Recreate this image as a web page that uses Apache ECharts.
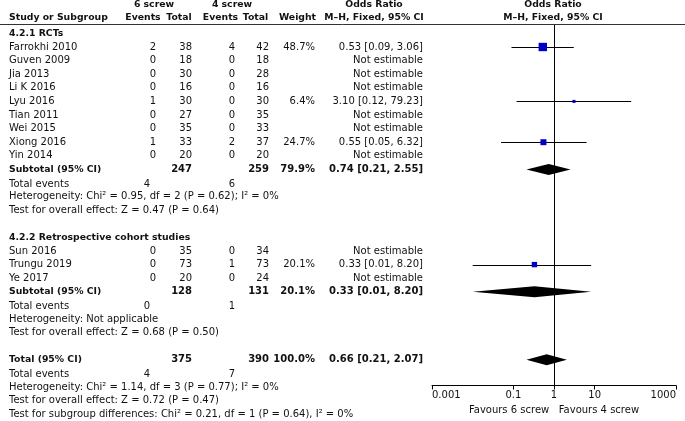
<!DOCTYPE html>
<html>
<head>
<meta charset="utf-8">
<style>
  html, body { margin: 0; padding: 0; background: #fff; }
  #container_one { width: 685px; height: 421px; }
</style>
<script src="https://cdn.jsdelivr.net/npm/echarts@6/dist/echarts.min.js"></script>
</head>
<body>
<div id="container_one"></div>
<script>
// 4.2.1 RCTs
var rctNames = ['Farrokhi 2010', 'Guven 2009', 'Jia 2013', 'Li K 2016', 'Lyu 2016', 'Tian 2011', 'Wei 2015', 'Xiong 2016', 'Yin 2014'];
var rctEvents6 = [2, 0, 0, 0, 1, 0, 0, 1, 0];
var rctTotal6 = [38, 18, 30, 16, 30, 27, 35, 33, 20];
var rctEvents4 = [4, 0, 0, 0, 0, 0, 0, 2, 0];
var rctTotal4 = [42, 18, 28, 16, 30, 35, 33, 37, 20];
var rctWeight = [48.7, null, null, null, 6.4, null, null, 24.7, null];
var rctOR = [0.53, null, null, null, 3.10, null, null, 0.55, null];
var rctLow = [0.09, null, null, null, 0.12, null, null, 0.05, null];
var rctHigh = [3.06, null, null, null, 79.23, null, null, 6.32, null];

// 4.2.2 Retrospective cohort studies
var cohortNames = ['Sun 2016', 'Trungu 2019', 'Ye 2017'];
var cohortEvents6 = [0, 0, 0];
var cohortTotal6 = [35, 73, 20];
var cohortEvents4 = [0, 1, 0];
var cohortTotal4 = [34, 73, 24];
var cohortWeight = [null, 20.1, null];
var cohortOR = [null, 0.33, null];
var cohortLow = [null, 0.01, null];
var cohortHigh = [null, 8.20, null];

// pooled: subtotal RCTs, subtotal cohort, total
var pooledLabels = ['Subtotal (95% CI)', 'Subtotal (95% CI)', 'Total (95% CI)'];
var pooledTotal6 = [247, 128, 375];
var pooledTotal4 = [259, 131, 390];
var pooledEvents6 = [4, 0, 4];
var pooledEvents4 = [6, 1, 7];
var pooledWeight = [79.9, 20.1, 100.0];
var pooledOR = [0.74, 0.33, 0.66];
var pooledLow = [0.21, 0.01, 0.21];
var pooledHigh = [2.55, 8.20, 2.07];
var heterogeneity = [
  'Heterogeneity: Chi² = 0.95, df = 2 (P = 0.62); I² = 0%',
  'Heterogeneity: Not applicable',
  'Heterogeneity: Chi² = 1.14, df = 3 (P = 0.77); I² = 0%'
];
var overallEffect = [
  'Test for overall effect: Z = 0.47 (P = 0.64)',
  'Test for overall effect: Z = 0.68 (P = 0.50)',
  'Test for overall effect: Z = 0.72 (P = 0.47)'
];
var subgroupTest = 'Test for subgroup differences: Chi² = 0.21, df = 1 (P = 0.64), I² = 0%';

var tickValues = [0.001, 0.1, 1, 10, 1000];
var favourLabels = ['Favours 6 screw', 'Favours 4 screw'];

// layout
var ROW_H = 13.6;
var Y0 = 33.4;
var FONT = '10px "DejaVu Sans"';
var BOLD_TEXT = 'bold 9.3px "DejaVu Sans"';
var BOLD_NUM = 'bold 10px "DejaVu Sans"';
var TEXT_COLOR = '#111';
// column x and alignment
var cols = {
  name: [9, 'left'],
  ev6: [156, 'right'],
  evTot6: [150, 'right'],
  tot6: [192, 'right'],
  ev4: [235, 'right'],
  tot4: [269, 'right'],
  weight: [315, 'right'],
  ci: [423, 'right']
};

function fmtCI(o, l, h) {
  if (o == null) return 'Not estimable';
  return o.toFixed(2) + ' [' + l.toFixed(2) + ', ' + h.toFixed(2) + ']';
}
function fmtW(w) {
  return w == null ? '' : w.toFixed(1) + '%';
}

// build the table rows
var rows = [];
var studyPoints = [];
var ciLines = [];
var diamonds = [];

function addGroup(title, start, names, e6, t6, e4, t4, w, o, l, h, p) {
  rows.push({ r: start, bold: true, cells: { name: title } });
  for (var i = 0; i < names.length; i++) {
    var r = start + 1 + i;
    rows.push({ r: r, cells: {
      name: names[i], ev6: e6[i], tot6: t6[i], ev4: e4[i], tot4: t4[i],
      weight: fmtW(w[i]), ci: fmtCI(o[i], l[i], h[i])
    }});
    if (o[i] != null) {
      studyPoints.push([o[i], r, w[i]]);
      ciLines.push([l[i], h[i], r]);
    }
  }
  var rs = start + 1 + names.length;
  addPooled(p, rs);
  rows.push({ r: rs + 3, cells: { name: overallEffect[p] } });
}

function addPooled(p, rs) {
  rows.push({ r: rs, bold: true, cells: {
    name: pooledLabels[p], tot6: pooledTotal6[p], tot4: pooledTotal4[p],
    weight: fmtW(pooledWeight[p]), ci: fmtCI(pooledOR[p], pooledLow[p], pooledHigh[p])
  }});
  rows.push({ r: rs + 1.1, cells: { name: 'Total events', evTot6: pooledEvents6[p], ev4: pooledEvents4[p] } });
  rows.push({ r: rs + 2, cells: { name: heterogeneity[p] } });
  diamonds.push([pooledLow[p], pooledOR[p], pooledHigh[p], rs]);
}

addGroup('4.2.1 RCTs', 0, rctNames, rctEvents6, rctTotal6, rctEvents4, rctTotal4, rctWeight, rctOR, rctLow, rctHigh, 0);
addGroup('4.2.2 Retrospective cohort studies', 15, cohortNames, cohortEvents6, cohortTotal6, cohortEvents4, cohortTotal4, cohortWeight, cohortOR, cohortLow, cohortHigh, 1);
addPooled(2, 24);
rows.push({ r: 27, cells: { name: overallEffect[2] } });
rows.push({ r: 28, cells: { name: subgroupTest } });

// header texts: [text, x, y(px), align]
var headers = [
  ['6 screw', 154, 5, 'center'],
  ['4 screw', 232, 5, 'center'],
  ['Odds Ratio', 374, 5, 'center'],
  ['Odds Ratio', 553, 5, 'center'],
  ['Study or Subgroup', 9, 18, 'left'],
  ['Events', 143, 18, 'center'],
  ['Total', 179, 18, 'center'],
  ['Events', 220.5, 18, 'center'],
  ['Total', 255.5, 18, 'center'],
  ['Weight', 297.5, 18, 'center'],
  ['M\u2013H, Fixed, 95% CI', 374, 18, 'center'],
  ['M\u2013H, Fixed, 95% CI', 553, 18, 'center']
];
headers.forEach(function (hd) {
  rows.push({ r: (hd[2] - Y0) / ROW_H, bold: true, free: hd });
});

function txt(s, x, y, align, font) {
  return {
    type: 'text',
    style: {
      text: String(s), x: x, y: y,
      align: align, textAlign: align,
      verticalAlign: 'middle', textVerticalAlign: 'middle',
      font: font, fill: TEXT_COLOR
    }
  };
}

var dom = document.getElementById('container_one');
var myChart_one = echarts.init(dom, null, { renderer: 'canvas' });

var plotTop = 25, plotBottom = 385.5;

var option = {
  animation: false,
  grid: [
    { left: 0, top: 0, width: 685, height: 421 },
    { left: 432, top: plotTop, width: 244, height: plotBottom - plotTop }
  ],
  xAxis: [
    { gridIndex: 0, type: 'value', min: 0, max: 685, show: false },
    {
      gridIndex: 1, type: 'log', logBase: 10, min: 0.001, max: 1000,
      axisLine: { show: true, onZero: false, lineStyle: { color: '#000', width: 1 } },
      axisTick: { show: true, length: 4, customValues: tickValues, lineStyle: { color: '#000' } },
      axisLabel: {
        customValues: tickValues, margin: 5, color: TEXT_COLOR,
        fontFamily: 'DejaVu Sans', fontSize: 10,
        alignMinLabel: 'left', alignMaxLabel: 'right',
        formatter: function (v) { return String(+v.toPrecision(3)); }
      },
      splitLine: { show: false },
      name: favourLabels[0] + '   ' + favourLabels[1],
      nameLocation: 'middle', nameGap: 17,
      nameTextStyle: { color: TEXT_COLOR, fontFamily: 'DejaVu Sans', fontSize: 10 }
    }
  ],
  yAxis: [
    { gridIndex: 0, type: 'value', inverse: true, min: -Y0 / ROW_H, max: (421 - Y0) / ROW_H, show: false },
    { gridIndex: 1, type: 'value', inverse: true, min: (plotTop - Y0) / ROW_H, max: (plotBottom - Y0) / ROW_H, show: false }
  ],
  graphic: [
    { type: 'line', shape: { x1: 0, y1: 24.5, x2: 685, y2: 24.5 }, style: { stroke: '#333', lineWidth: 1 } }
  ],
  series: [
    {
      type: 'custom',
      xAxisIndex: 0, yAxisIndex: 0,
      data: rows.map(function (d, i) { return [i]; }),
      renderItem: function (params, api) {
        var row = rows[api.value(0)];
        var y = api.coord([0, row.r])[1];
        var children = [];
        if (row.free) {
          children.push(txt(row.free[0], api.coord([row.free[1], 0])[0], y, row.free[3], BOLD_TEXT));
        } else {
          for (var k in row.cells) {
            var v = row.cells[k];
            if (v === '' || v == null) continue;
            var c = cols[k];
            var f = !row.bold ? FONT : (k === 'name' ? BOLD_TEXT : BOLD_NUM);
            children.push(txt(v, api.coord([c[0], 0])[0], y, c[1], f));
          }
        }
        return { type: 'group', children: children };
      },
      silent: true
    },
    {
      // confidence intervals of single studies
      type: 'custom',
      xAxisIndex: 1, yAxisIndex: 1,
      data: ciLines,
      renderItem: function (params, api) {
        var a = api.coord([api.value(0), api.value(2)]);
        var b = api.coord([api.value(1), api.value(2)]);
        return {
          type: 'line',
          shape: { x1: a[0], y1: Math.round(a[1]) + 0.5, x2: b[0], y2: Math.round(b[1]) + 0.5 },
          style: { stroke: '#000', lineWidth: 1 }
        };
      },
      silent: true
    },
    {
      type: 'scatter',
      xAxisIndex: 1, yAxisIndex: 1,
      data: studyPoints,
      symbol: 'rect',
      symbolSize: function (d) { return Math.sqrt(d[2]) * 1.2; },
      itemStyle: { color: '#0000c8', opacity: 1 },
      silent: true,
      z: 3,
      markLine: {
        silent: true,
        symbol: 'none',
        label: { show: false },
        lineStyle: { color: '#000', width: 1, type: 'solid' },
        data: [{ xAxis: 1 }]
      }
    },
    {
      // pooled diamonds
      type: 'custom',
      xAxisIndex: 1, yAxisIndex: 1,
      data: diamonds,
      renderItem: function (params, api) {
        var r = api.value(3);
        var lo = api.coord([api.value(0), r]);
        var mid = api.coord([api.value(1), r]);
        var hi = api.coord([api.value(2), r]);
        var hh = 5.5;
        return {
          type: 'polygon',
          shape: { points: [[lo[0], lo[1]], [mid[0], mid[1] - hh], [hi[0], hi[1]], [mid[0], mid[1] + hh]] },
          style: { fill: '#000' }
        };
      },
      silent: true
    }
  ]
};

if (option && typeof option === 'object') {
  myChart_one.setOption(option);
}
</script>
</body>
</html>
